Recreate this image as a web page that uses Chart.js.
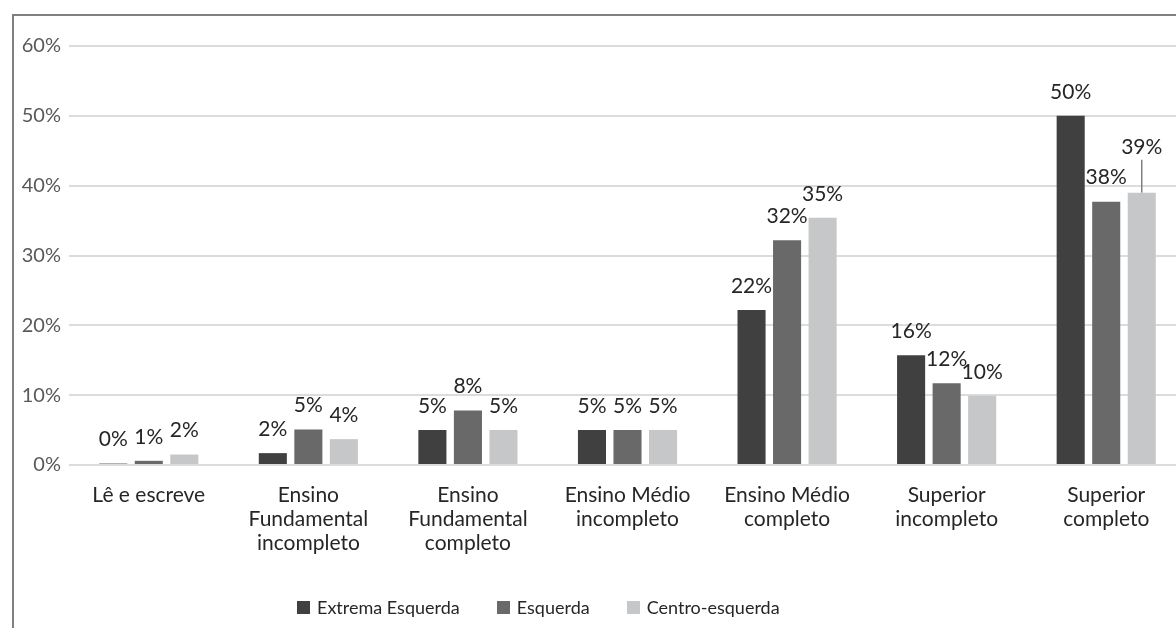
<!DOCTYPE html>
<html>
<head>
<meta charset="utf-8">
<script src="https://cdn.jsdelivr.net/npm/chart.js@4"></script>
<style>
  html, body { margin: 0; padding: 0; background: #fff; overflow: hidden; }
  #wrap { position: relative; width: 1186px; height: 628px; }
  #frame { position: absolute; left: 12px; top: 14px; width: 1300px; height: 700px;
           border-left: 2px solid #808080; border-top: 2px solid #808080; }
  #legend { position: absolute; top: 596px; left: 297px; font: 18px Lato, sans-serif; color: #262626;
            display: flex; white-space: nowrap; }
  #legend span.item { display: inline-flex; align-items: center; margin-right: 37px; }
  #legend i { display: inline-block; width: 13px; height: 13px; margin-right: 7px; }
  canvas { position: absolute; left: 0; top: 0; }
</style>
</head>
<body>
<div id="wrap">
  <div id="frame"></div>
  <canvas id="grafica" width="1186" height="628"></canvas>
  <div id="legend"></div>
</div>
<script>
// categorias e series (percentual)
const categorias = [
  "Lê e escreve",
  ["Ensino", "Fundamental", "incompleto"],
  ["Ensino", "Fundamental", "completo"],
  ["Ensino Médio", "incompleto"],
  ["Ensino Médio", "completo"],
  ["Superior", "incompleto"],
  ["Superior", "completo"]
];
const extremaEsquerda = [0.2, 1.7, 5.0, 5.0, 22.2, 15.7, 50.0];
const esquerda        = [0.6, 5.1, 7.8, 5.0, 32.2, 11.7, 37.7];
const centroEsquerda  = [1.5, 3.7, 5.0, 5.0, 35.4, 9.9, 39.0];
const nomesSeries = ["Extrema Esquerda", "Esquerda", "Centro-esquerda"];
const coresSeries = ["#404040", "#696969", "#c6c7c9"];
const ticksY = [0, 10, 20, 30, 40, 50, 60];

const fonte = "Lato, 'Open Sans', sans-serif";

// rotulos de dados com linha de chamada quando se sobrepoem
const rotulos = {
  id: 'rotulos',
  afterDatasetsDraw(chart) {
    const ctx = chart.ctx;
    ctx.save();
    ctx.font = "21px " + fonte;
    ctx.textAlign = 'center';
    ctx.textBaseline = 'middle';
    const placed = [];
    chart.data.datasets.forEach((ds, di) => {
      const meta = chart.getDatasetMeta(di);
      meta.data.forEach((bar, i) => {
        const txt = Math.round(ds.data[i]) + '%';
        const w = ctx.measureText(txt).width;
        let y = bar.y - 24;
        let leader = false;
        placed.forEach(p => {
          const overlapX = Math.abs(p.x - bar.x) < (p.w + w) / 2 + 2;
          if (p.i === i && overlapX && Math.abs(p.y - y) < 18 && y < p.y) {
            y = p.y - 30;
            leader = true;
          }
        });
        if (leader) {
          ctx.strokeStyle = '#808080';
          ctx.lineWidth = 1.5;
          ctx.beginPath();
          ctx.moveTo(bar.x, y + 12);
          ctx.lineTo(bar.x, bar.y);
          ctx.stroke();
        }
        ctx.fillStyle = '#262626';
        ctx.fillText(txt, bar.x, y);
        placed.push({ i: i, x: bar.x, y: y, w: w });
      });
    });
    ctx.restore();
  }
};

const series = [extremaEsquerda, esquerda, centroEsquerda];

var chart = new Chart(document.getElementById('grafica').getContext('2d'), {
  type: 'bar',
  data: {
    labels: categorias,
    datasets: series.map((d, k) => ({
      label: nomesSeries[k],
      data: d,
      backgroundColor: coresSeries[k],
      categoryPercentage: 0.668,
      barPercentage: 0.79
    }))
  },
  options: {
    responsive: false,
    animation: false,
    layout: { padding: { top: 46, left: 0, right: 0, bottom: 0 } },
    plugins: {
      legend: { display: false },
      tooltip: { enabled: false }
    },
    scales: {
      y: {
        min: 0, max: 60,
        afterFit(s) { s.width = 69; },
        afterBuildTicks(s) { s.ticks = ticksY.map(v => ({ value: v })); },
        grid: { color: '#dcdcdc', lineWidth: 2, drawTicks: false },
        border: { display: false },
        ticks: {
          padding: 8,
          color: '#595959',
          font: { family: fonte, size: 20 },
          callback: v => v + '%'
        }
      },
      x: {
        afterFit(s) { s.height = 163; },
        grid: { display: false, drawTicks: false },
        border: { display: false },
        ticks: {
          padding: 18,
          maxRotation: 0,
          autoSkip: false,
          color: '#262626',
          font: { family: fonte, size: 21, lineHeight: 1.15 }
        }
      }
    }
  },
  plugins: [rotulos]
});

// legenda em HTML
const leg = document.getElementById('legend');
nomesSeries.forEach((n, k) => {
  const s = document.createElement('span');
  s.className = 'item';
  s.innerHTML = '<i style="background:' + coresSeries[k] + '"></i>' + n;
  leg.appendChild(s);
});
</script>
</body>
</html>
